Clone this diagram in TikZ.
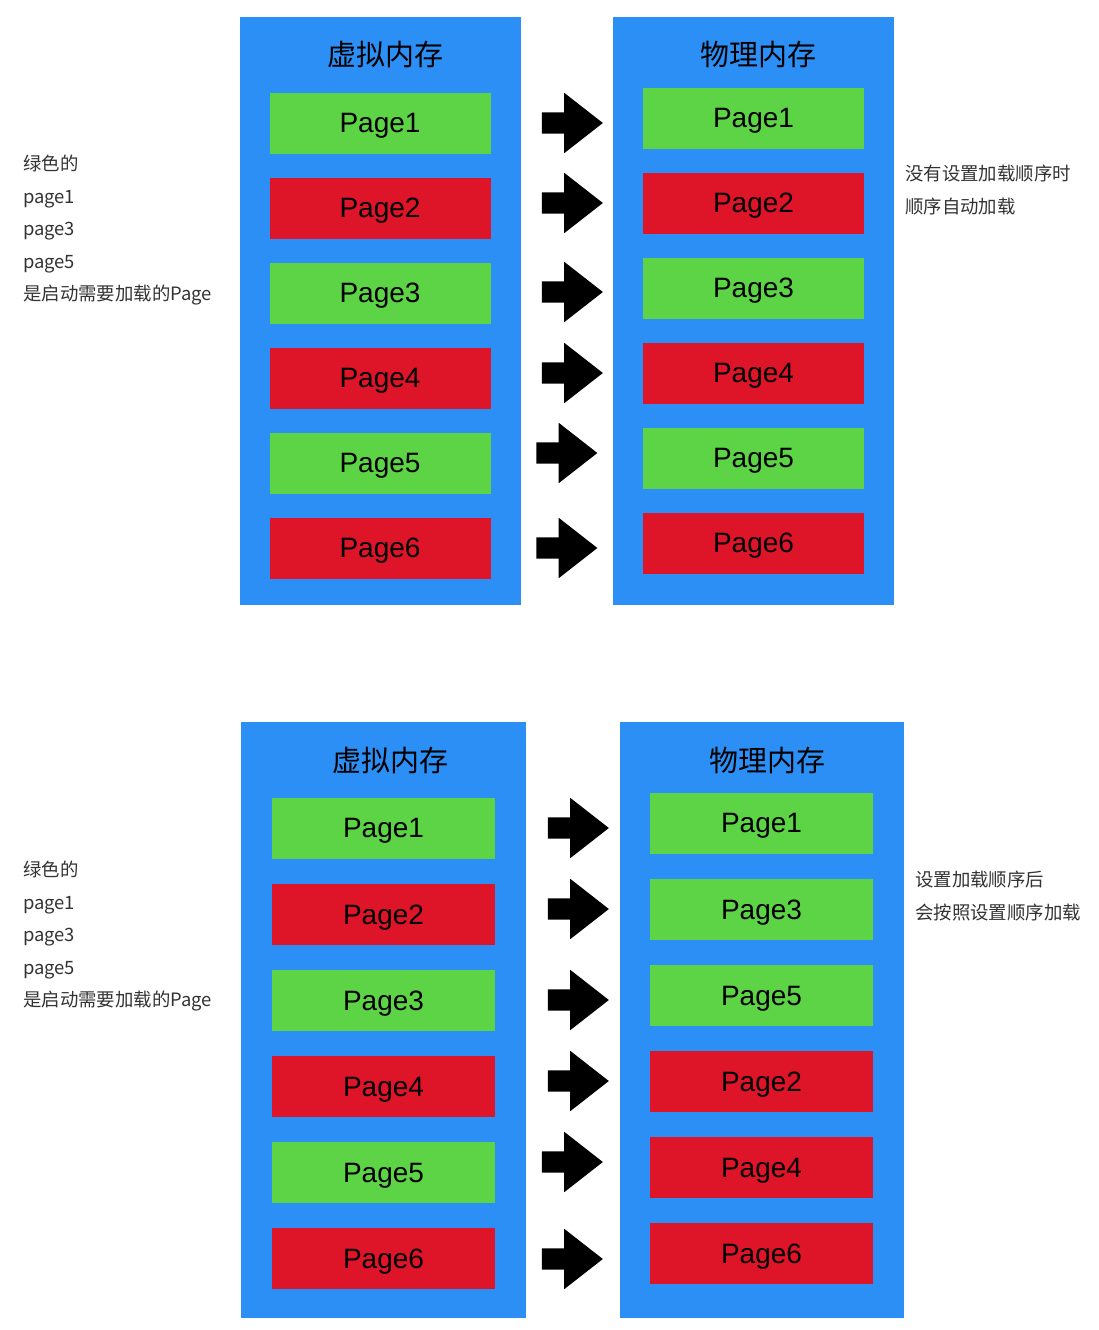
\documentclass[tikz,border=0pt]{standalone}
\usepackage{fontspec}
\setmainfont{Liberation Sans}
\newfontfamily\cjk{Noto Sans CJK SC}
\usetikzlibrary{shapes.arrows}
\definecolor{memblue}{HTML}{2C8FF5}
\definecolor{pagegreen}{HTML}{5DD346}
\definecolor{pagered}{HTML}{DE1429}
\definecolor{notegray}{HTML}{333333}

\begin{document}
\begin{tikzpicture}[x=1pt,y=-1pt,
    membox/.style={fill=memblue, inner sep=0pt, anchor=north west},
    memtitle/.style={font=\cjk\fontsize{29}{34}\selectfont, inner sep=0pt},
    page/.style={minimum width=221pt, minimum height=61pt, inner sep=0pt, text depth=0pt,
        font=\fontsize{28}{32}\selectfont},
    greenpage/.style={page, fill=pagegreen},
    redpage/.style={page, fill=pagered},
    blockarrow/.style={single arrow, fill=black, inner xsep=0pt, inner ysep=10.5pt,
        minimum height=61pt, single arrow head extend=19.5pt, single arrow tip angle=76},
    note/.style={anchor=north west, align=left, inner sep=0pt, text=notegray,
        font=\cjk\fontsize{18.4}{32.5}\selectfont}]
    \useasboundingbox[fill=white] (0,0) rectangle (1098,1330);

    % Without load order
    \path (240,17) node[membox, minimum width=281pt, minimum height=588pt] (vmA) {};
    \path (613,17) node[membox, minimum width=281pt, minimum height=588pt] (pmA) {};
    \node[memtitle] (vtA) at (385,55) {虚拟内存};
    \node[memtitle] (ptA) at (758,55) {物理内存};

    \node[greenpage] (vA1) at (380,123) {Page1};
    \node[redpage]   (vA2) at (380,208) {Page2};
    \node[greenpage] (vA3) at (380,293) {Page3};
    \node[redpage]   (vA4) at (380,378) {Page4};
    \node[greenpage] (vA5) at (380,463) {Page5};
    \node[redpage]   (vA6) at (380,548) {Page6};

    \node[greenpage] (pA1) at (753.5,118) {Page1};
    \node[redpage]   (pA2) at (753.5,203) {Page2};
    \node[greenpage] (pA3) at (753.5,288) {Page3};
    \node[redpage]   (pA4) at (753.5,373) {Page4};
    \node[greenpage] (pA5) at (753.5,458) {Page5};
    \node[redpage]   (pA6) at (753.5,543) {Page6};

    \node[blockarrow] (aA1) at (565.5,123) {};
    \node[blockarrow] (aA2) at (565.5,203) {};
    \node[blockarrow] (aA3) at (565.5,292) {};
    \node[blockarrow] (aA4) at (565.5,373) {};
    \node[blockarrow] (aA5) at (560,453) {};
    \node[blockarrow] (aA6) at (560,548) {};

    \node[note] (nA1) at (23,155) {绿色的\\page1\\page3\\page5\\是启动需要加载的Page};
    \node[note] (nA2) at (905,165) {没有设置加载顺序时\\顺序自动加载};

    % With load order
    \path (241,722) node[membox, minimum width=285pt, minimum height=596pt] (vmB) {};
    \path (620,722) node[membox, minimum width=284pt, minimum height=596pt] (pmB) {};
    \node[memtitle] (vtB) at (390,760) {虚拟内存};
    \node[memtitle] (ptB) at (767,760) {物理内存};

    \node[greenpage, minimum width=223pt] (vB1) at (383.5,828) {Page1};
    \node[redpage,   minimum width=223pt] (vB2) at (383.5,914.5) {Page2};
    \node[greenpage, minimum width=223pt] (vB3) at (383.5,1000.5) {Page3};
    \node[redpage,   minimum width=223pt] (vB4) at (383.5,1086.5) {Page4};
    \node[greenpage, minimum width=223pt] (vB5) at (383.5,1172.5) {Page5};
    \node[redpage,   minimum width=223pt] (vB6) at (383.5,1258.5) {Page6};

    \node[greenpage, minimum width=223pt] (pB1) at (761.5,823) {Page1};
    \node[greenpage, minimum width=223pt] (pB3) at (761.5,909.5) {Page3};
    \node[greenpage, minimum width=223pt] (pB5) at (761.5,995.5) {Page5};
    \node[redpage,   minimum width=223pt] (pB2) at (761.5,1081.5) {Page2};
    \node[redpage,   minimum width=223pt] (pB4) at (761.5,1167.5) {Page4};
    \node[redpage,   minimum width=223pt] (pB6) at (761.5,1253.5) {Page6};

    \node[blockarrow] (aB1) at (571.5,828) {};
    \node[blockarrow] (aB2) at (571.5,909) {};
    \node[blockarrow] (aB3) at (571.5,1000) {};
    \node[blockarrow] (aB4) at (571.5,1081) {};
    \node[blockarrow] (aB5) at (565.5,1162) {};
    \node[blockarrow] (aB6) at (565.5,1259) {};

    \node[note] (nB1) at (23,861) {绿色的\\page1\\page3\\page5\\是启动需要加载的Page};
    \node[note] (nB2) at (915,871) {设置加载顺序后\\会按照设置顺序加载};
\end{tikzpicture}
\end{document}
